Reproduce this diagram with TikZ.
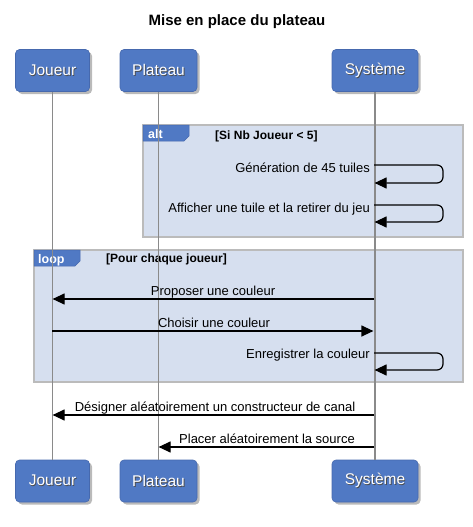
\documentclass[tikz,border=0pt]{standalone}
\usepackage{fontspec}
\setmainfont{Liberation Sans}
\usetikzlibrary{arrows.meta,calc,shadows}
\definecolor{boxblue}{HTML}{5079C4}
\definecolor{boxedge}{HTML}{4669AE}
\definecolor{framefill}{HTML}{D6DFEF}
\definecolor{frameline}{HTML}{BBBBBB}
\definecolor{lifegray}{HTML}{8A8A8A}
\newcommand\shtxt[1]{\makebox[0pt]{\textcolor{black!70}{\kern1.8pt\raisebox{-1pt}{#1}}}\makebox[0pt]{#1}}
\begin{document}
\begin{tikzpicture}[x=1pt,y=-1pt,
  participant/.style={rectangle, rounded corners=4pt, fill=boxblue, draw=boxedge, line width=0.6pt,
    minimum height=42pt, text=white, font=\fontsize{15.5}{18}\selectfont, inner sep=0pt,
    drop shadow={shadow xshift=2.5pt, shadow yshift=-2.5pt, opacity=0.45, fill=black!60}},
  frame/.style={fill=framefill, draw=frameline, line width=1.2pt},
  tab/.style={fill=boxblue, draw=boxedge, line width=0.5pt},
  tabtext/.style={text=white, font=\bfseries\fontsize{12.5}{14}\selectfont, inner sep=0pt, anchor=base west},
  guard/.style={font=\bfseries\fontsize{12}{14}\selectfont, inner sep=0pt, anchor=base west},
  lifeline/.style={draw=lifegray, line width=1.1pt},
  msg/.style={line width=1.2pt, -{Triangle[length=12pt,width=11pt]}},
  selfmsg/.style={line width=1.2pt, rounded corners=6pt, -{Triangle[length=12pt,width=11pt]}},
  lbl/.style={font=\fontsize{13}{15}\selectfont, inner sep=0pt, anchor=base},
  selflbl/.style={font=\fontsize{13}{15}\selectfont, inner sep=0pt, anchor=base east}]
\useasboundingbox (0,0) rectangle (473,527);

% title
\node[font=\bfseries\fontsize{15}{18}\selectfont, inner sep=0pt, anchor=base] (title) at (237,26) {Mise en place du plateau};

% frames
\draw[frame] (143,125) rectangle (463,237);
\draw[tab] (143,125) -- (189,125) -- (189,136) -- (184,141) -- (143,141) -- cycle;
\node[tabtext] (alttab) at (148,138) {alt};
\node[guard] (altguard) at (215,139) {[Si Nb Joueur < 5]};

\draw[frame] (34,250) rectangle (463,382);
\draw[tab] (34,250) -- (80,250) -- (80,261) -- (75,266) -- (34,266) -- cycle;
\node[tabtext] (looptab) at (38,263) {loop};
\node[guard] (loopguard) at (106,262) {[Pour chaque joueur]};

% participants
\node[participant, minimum width=74pt] (jt) at (52.5,70.5) {\shtxt{Joueur}};
\node[participant, minimum width=77pt] (pt) at (158.5,70.5) {\shtxt{Plateau}};
\node[participant, minimum width=86pt] (st) at (375,70.5) {\shtxt{Système}};
\node[participant, minimum width=74pt] (jb) at (52.5,481) {\shtxt{Joueur}};
\node[participant, minimum width=77pt] (pb) at (158.5,481) {\shtxt{Plateau}};
\node[participant, minimum width=86pt] (sb) at (375,481) {\shtxt{Système}};

% lifelines
\draw[lifeline] (jt.south) -- (jb.north);
\draw[lifeline] (pt.south) -- (pb.north);
\draw[lifeline] (st.south) -- (sb.north);

% self messages (alt)
\coordinate (a1) at (374,165);
\coordinate (a1r) at (443,165);
\coordinate (a1b) at (443,183);
\coordinate (a1e) at (374.6,183);
\draw[selfmsg] (a1) -- (a1r) -- (a1b) -- (a1e);
\node[selflbl] (l1) at (370,172) {Génération de 45 tuiles};

\coordinate (a2) at (374,205);
\coordinate (a2r) at (443,205);
\coordinate (a2b) at (443,222);
\coordinate (a2e) at (374.6,222);
\draw[selfmsg] (a2) -- (a2r) -- (a2b) -- (a2e);
\node[selflbl] (l2) at (370,212) {Afficher une tuile et la retirer du jeu};

% loop messages
\coordinate (m1s) at (374,299);
\coordinate (m1e) at (52.6,299);
\draw[msg] (m1s) -- (m1e);
\node[lbl] (l3) at (213,295) {Proposer une couleur};

\coordinate (m2s) at (52,331);
\coordinate (m2e) at (373.4,331);
\draw[msg] (m2s) -- (m2e);
\node[lbl] (l4) at (214,327) {Choisir une couleur};

\coordinate (a3) at (374,353);
\coordinate (a3r) at (443,353);
\coordinate (a3b) at (443,370);
\coordinate (a3e) at (374.6,370);
\draw[selfmsg] (a3) -- (a3r) -- (a3b) -- (a3e);
\node[selflbl] (l5) at (370,358) {Enregistrer la couleur};

% final messages
\coordinate (m3s) at (374,415);
\coordinate (m3e) at (52.6,415);
\draw[msg] (m3s) -- (m3e);
\node[lbl] (l6) at (215,411) {Désigner aléatoirement un constructeur de canal};

\coordinate (m4s) at (374,447);
\coordinate (m4e) at (158.6,447);
\draw[msg] (m4s) -- (m4e);
\node[lbl] (l7) at (267,443) {Placer aléatoirement la source};
\end{tikzpicture}
\end{document}
